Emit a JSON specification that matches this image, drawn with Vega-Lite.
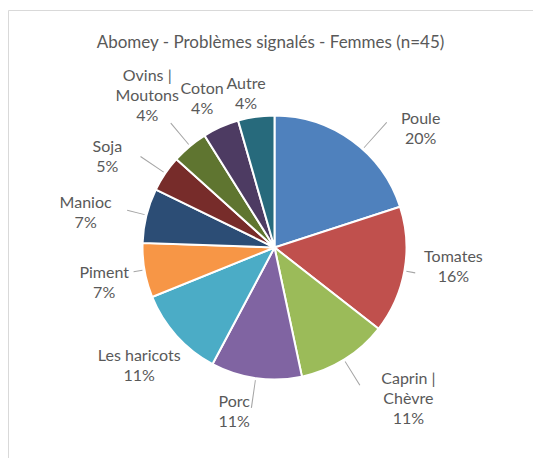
{
  "$schema": "https://vega.github.io/schema/vega-lite/v6.json",
  "autosize": {"type": "none"},
  "width": 533,
  "height": 475,
  "padding": {"left": 8, "top": 10, "right": -8, "bottom": -27},
  "background": "white",
  "view": {"stroke": "#d9d9d9", "strokeWidth": 1, "fill": "white"},
  "config": {"view": {"stroke": "#d9d9d9", "strokeWidth": 1}},
  "title": {"text": "Abomey - Problèmes signalés - Femmes (n=45)", "font": "Lato", "fontSize": 17, "fontWeight": "normal", "color": "#595959", "anchor": "middle", "baseline": "middle", "offset": -50, "dx": -4},
  "data": {"values": [
    {"name": "Poule", "count": 9, "pct": 20},
    {"name": "Tomates", "count": 7, "pct": 16},
    {"name": "Caprin | Chèvre", "count": 5, "pct": 11},
    {"name": "Porc", "count": 5, "pct": 11},
    {"name": "Les haricots", "count": 5, "pct": 11},
    {"name": "Piment", "count": 3, "pct": 7},
    {"name": "Manioc", "count": 3, "pct": 7},
    {"name": "Soja", "count": 2, "pct": 5},
    {"name": "Ovins | Moutons", "count": 2, "pct": 4},
    {"name": "Coton", "count": 2, "pct": 4},
    {"name": "Autre", "count": 2, "pct": 4}
  ]},
  "transform": [
    {"window": [{"op": "sum", "field": "count", "as": "cum"}], "frame": [null, 0]},
    {"calculate": "datum.cum - datum.count", "as": "start"},
    {"calculate": "datum.cum - datum.count / 2", "as": "mid"},
    {"calculate": "replace(datum.name, '| ', '|\\n') + '\\n' + datum.pct + '%'", "as": "label"}
  ],
  "layer": [
    {
      "mark": {"type": "arc", "radius": 132, "stroke": "white", "strokeWidth": 2},
      "encoding": {
        "theta": {"field": "start", "type": "quantitative", "stack": null, "scale": {"domain": [0, 45]}},
        "theta2": {"field": "cum"},
        "color": {"field": "name", "type": "nominal", "legend": null,
          "scale": {"domain": ["Poule","Tomates","Caprin | Chèvre","Porc","Les haricots","Piment","Manioc","Soja","Ovins | Moutons","Coton","Autre"],
                    "range": ["#4F81BD","#C0504D","#9BBB59","#8064A2","#4BACC6","#F79646","#2C4D75","#772C2A","#5F7530","#4D3B62","#276A7C"]}}
      }
    },
    {
      "transform": [{"filter": "datum.name === 'Poule'"}],
      "mark": {"type": "arc", "radius": 168, "radius2": 134, "fill": "#a6a6a6", "thetaOffset": 0.1, "theta2Offset": 0.106},
      "encoding": {"theta": {"field": "mid", "type": "quantitative", "stack": null, "scale": {"domain": [0, 45]}}, "theta2": {"field": "mid"}}
    },
    {
      "transform": [{"filter": "indexof(['Caprin | Chèvre','Porc','Soja','Ovins | Moutons'], datum.name) >= 0"}],
      "mark": {"type": "arc", "radius": 162, "radius2": 134, "fill": "#a6a6a6", "theta2Offset": 0.007},
      "encoding": {"theta": {"field": "mid", "type": "quantitative", "stack": null, "scale": {"domain": [0, 45]}}, "theta2": {"field": "mid"}}
    },
    {
      "transform": [{"filter": "datum.name === 'Manioc'"}],
      "mark": {"type": "arc", "radius": 152, "radius2": 134, "fill": "#a6a6a6", "theta2Offset": 0.007},
      "encoding": {"theta": {"field": "mid", "type": "quantitative", "stack": null, "scale": {"domain": [0, 45]}}, "theta2": {"field": "mid"}}
    },
    {
      "transform": [{"filter": "indexof(['Tomates','Piment'], datum.name) >= 0"}],
      "mark": {"type": "arc", "radius": 143, "radius2": 134, "fill": "#a6a6a6", "theta2Offset": 0.008},
      "encoding": {"theta": {"field": "mid", "type": "quantitative", "stack": null, "scale": {"domain": [0, 45]}}, "theta2": {"field": "mid"}}
    },
    {"transform": [{"filter": "datum.name === 'Poule'"}], "mark": {"type": "text", "radius": 188, "thetaOffset": 0.262, "dy": -10, "font": "Lato", "fontSize": 16, "color": "#595959", "lineHeight": 20, "lineBreak": "\n", "align": "center", "baseline": "middle"}, "encoding": {"theta": {"field": "mid", "type": "quantitative", "stack": null, "scale": {"domain": [0, 45]}}, "text": {"field": "label"}}},
    {"transform": [{"filter": "datum.name === 'Tomates'"}], "mark": {"type": "text", "radius": 180, "thetaOffset": -0.066, "dy": -10, "font": "Lato", "fontSize": 16, "color": "#595959", "lineHeight": 20, "lineBreak": "\n", "align": "center", "baseline": "middle"}, "encoding": {"theta": {"field": "mid", "type": "quantitative", "stack": null, "scale": {"domain": [0, 45]}}, "text": {"field": "label"}}},
    {"transform": [{"filter": "datum.name === 'Caprin | Chèvre'"}], "mark": {"type": "text", "radius": 200, "thetaOffset": -0.175, "dy": -17, "font": "Lato", "fontSize": 16, "color": "#595959", "lineHeight": 20, "lineBreak": "\n", "align": "center", "baseline": "middle"}, "encoding": {"theta": {"field": "mid", "type": "quantitative", "stack": null, "scale": {"domain": [0, 45]}}, "text": {"field": "label"}}},
    {"transform": [{"filter": "datum.name === 'Porc'"}], "mark": {"type": "text", "radius": 169, "thetaOffset": 0.101, "dy": -10, "font": "Lato", "fontSize": 16, "color": "#595959", "lineHeight": 20, "lineBreak": "\n", "align": "center", "baseline": "middle"}, "encoding": {"theta": {"field": "mid", "type": "quantitative", "stack": null, "scale": {"domain": [0, 45]}}, "text": {"field": "label"}}},
    {"transform": [{"filter": "datum.name === 'Les haricots'"}], "mark": {"type": "text", "radius": 179, "thetaOffset": 0.019, "dy": -9, "font": "Lato", "fontSize": 16, "color": "#595959", "lineHeight": 20, "lineBreak": "\n", "align": "center", "baseline": "middle"}, "encoding": {"theta": {"field": "mid", "type": "quantitative", "stack": null, "scale": {"domain": [0, 45]}}, "text": {"field": "label"}}},
    {"transform": [{"filter": "datum.name === 'Piment'"}], "mark": {"type": "text", "radius": 174, "thetaOffset": -0.031, "dy": -10, "font": "Lato", "fontSize": 16, "color": "#595959", "lineHeight": 20, "lineBreak": "\n", "align": "center", "baseline": "middle"}, "encoding": {"theta": {"field": "mid", "type": "quantitative", "stack": null, "scale": {"domain": [0, 45]}}, "text": {"field": "label"}}},
    {"transform": [{"filter": "datum.name === 'Manioc'"}], "mark": {"type": "text", "radius": 192, "thetaOffset": -0.063, "dy": -10, "font": "Lato", "fontSize": 16, "color": "#595959", "lineHeight": 20, "lineBreak": "\n", "align": "center", "baseline": "middle"}, "encoding": {"theta": {"field": "mid", "type": "quantitative", "stack": null, "scale": {"domain": [0, 45]}}, "text": {"field": "label"}}},
    {"transform": [{"filter": "datum.name === 'Soja'"}], "mark": {"type": "text", "radius": 190, "thetaOffset": -0.098, "dy": -10, "font": "Lato", "fontSize": 16, "color": "#595959", "lineHeight": 20, "lineBreak": "\n", "align": "center", "baseline": "middle"}, "encoding": {"theta": {"field": "mid", "type": "quantitative", "stack": null, "scale": {"domain": [0, 45]}}, "text": {"field": "label"}}},
    {"transform": [{"filter": "datum.name === 'Ovins | Moutons'"}], "mark": {"type": "text", "radius": 198, "thetaOffset": 0.0, "dy": -20, "font": "Lato", "fontSize": 16, "color": "#595959", "lineHeight": 20, "lineBreak": "\n", "align": "center", "baseline": "middle"}, "encoding": {"theta": {"field": "mid", "type": "quantitative", "stack": null, "scale": {"domain": [0, 45]}}, "text": {"field": "label"}}},
    {"transform": [{"filter": "datum.name === 'Coton'"}], "mark": {"type": "text", "radius": 165, "thetaOffset": -0.035, "dy": -10, "font": "Lato", "fontSize": 16, "color": "#595959", "lineHeight": 20, "lineBreak": "\n", "align": "center", "baseline": "middle"}, "encoding": {"theta": {"field": "mid", "type": "quantitative", "stack": null, "scale": {"domain": [0, 45]}}, "text": {"field": "label"}}},
    {"transform": [{"filter": "datum.name === 'Autre'"}], "mark": {"type": "text", "radius": 157, "thetaOffset": -0.043, "dy": -9, "font": "Lato", "fontSize": 16, "color": "#595959", "lineHeight": 20, "lineBreak": "\n", "align": "center", "baseline": "middle"}, "encoding": {"theta": {"field": "mid", "type": "quantitative", "stack": null, "scale": {"domain": [0, 45]}}, "text": {"field": "label"}}}
  ]
}
